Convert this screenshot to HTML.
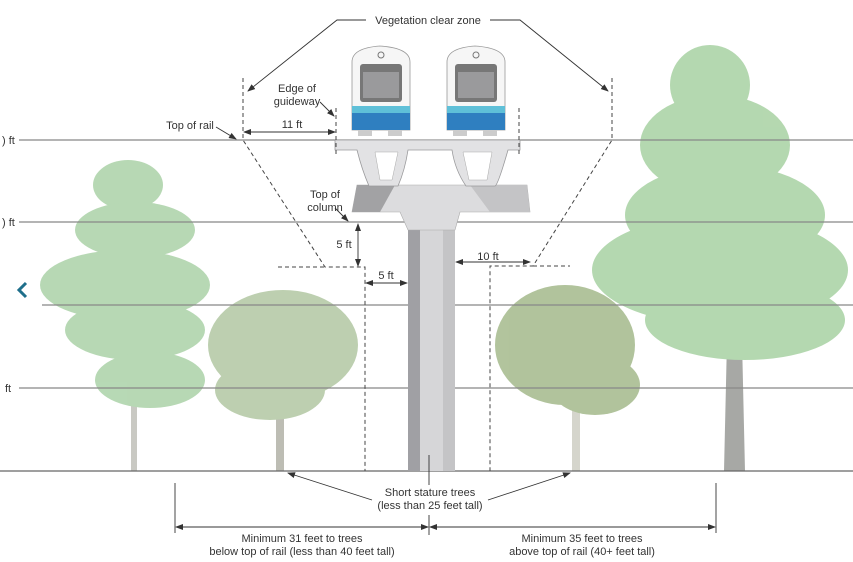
<!DOCTYPE html>
<html><head><meta charset="utf-8"><style>
html,body{margin:0;padding:0;background:#fff}
svg{display:block}
text{font-family:"Liberation Sans",Arial,sans-serif;fill:#333;font-size:11px}
</style></head><body>
<svg width="853" height="562" viewBox="0 0 853 562" xmlns="http://www.w3.org/2000/svg">
<defs>
<marker id="a" markerWidth="8" markerHeight="8" refX="7" refY="4" orient="auto" markerUnits="userSpaceOnUse"><path d="M0,1 L8,4 L0,7 Z" fill="#333"/></marker>
<marker id="b" markerWidth="8" markerHeight="8" refX="1" refY="4" orient="auto" markerUnits="userSpaceOnUse"><path d="M8,1 L0,4 L8,7 Z" fill="#333"/></marker>
</defs>
<rect width="853" height="562" fill="#fff"/>

<!-- trees -->
<g opacity="0.75">
 <rect x="131" y="300" width="6" height="171" fill="#b8b8b0"/>
 <g fill="#9fcc9c">
  <ellipse cx="128" cy="185" rx="35" ry="25"/>
  <ellipse cx="135" cy="230" rx="60" ry="28"/>
  <ellipse cx="125" cy="285" rx="85" ry="35"/>
  <ellipse cx="135" cy="330" rx="70" ry="30"/>
  <ellipse cx="150" cy="380" rx="55" ry="28"/>
 </g>
 <rect x="276" y="380" width="8" height="91" fill="#a8a89c"/>
 <g fill="#a7c096">
  <ellipse cx="283" cy="345" rx="75" ry="55"/>
  <ellipse cx="270" cy="390" rx="55" ry="30"/>
 </g>
 <rect x="572" y="390" width="8" height="81" fill="#c8c8bc"/>
 <g fill="#98b07c">
  <ellipse cx="565" cy="345" rx="70" ry="60"/>
  <ellipse cx="595" cy="385" rx="45" ry="30"/>
 </g>
 <polygon points="727,340 742,340 745,471 724,471" fill="#8a8c88"/>
 <g fill="#9ccb96">
  <ellipse cx="710" cy="85" rx="40" ry="40"/>
  <ellipse cx="715" cy="145" rx="75" ry="50"/>
  <ellipse cx="725" cy="215" rx="100" ry="50"/>
  <ellipse cx="720" cy="270" rx="128" ry="55"/>
  <ellipse cx="745" cy="320" rx="100" ry="40"/>
 </g>
</g>

<g stroke="#888" stroke-width="1.2">
 <line x1="19" y1="140" x2="853" y2="140"/>
 <line x1="19" y1="222" x2="853" y2="222"/>
 <line x1="42" y1="305" x2="853" y2="305"/>
 <line x1="19" y1="388" x2="853" y2="388"/>
 <line x1="0" y1="471" x2="853" y2="471" stroke="#666"/>
</g>
<text x="2" y="144" font-size="10">) ft</text>
<text x="2" y="226" font-size="10">) ft</text>
<text x="5" y="392" font-size="10">ft</text>
<polyline points="26,283 19,290 26,297" fill="none" stroke="#1f6f8b" stroke-width="3"/>

<!-- column -->
<polygon points="408,222 455,222 455,471 408,471" fill="#d6d6d8"/>
<polygon points="408,222 420,222 420,471 408,471" fill="#a0a0a4"/>
<polygon points="443,222 455,222 455,471 443,471" fill="#c4c4c6"/>
<polygon points="357,185 527,185 530,212 460,212 455,230 408,230 400,212 352,212" fill="#dcdcde" stroke="#aaa" stroke-width="0.6"/>
<polygon points="357,185 395,185 380,212 352,212" fill="#a2a2a4"/>
<polygon points="470,185 527,185 530,212 490,212" fill="#c4c4c6"/>
<path d="M335,140 H520 V150 L508,150 Q498,185 495,186 H466 Q455,170 452,150 H408 Q405,170 398,186 H369 Q362,170 357,150 H335 Z" fill="#e2e2e4" stroke="#9a9a9c" stroke-width="0.8"/>
<path d="M375,152 H398 L392,180 H380 Z" fill="#fff" stroke="#aaa" stroke-width="0.5"/>
<path d="M463,152 H492 L487,180 H469 Z" fill="#fff" stroke="#aaa" stroke-width="0.5"/>

<!-- trains -->
<g>
 <path d="M352,130 V62 Q352,48 380,46 Q410,48 410,62 V130 Z" fill="#f6f6f6" stroke="#999" stroke-width="0.8"/>
 <rect x="360" y="64" width="42" height="38" rx="3" fill="#777"/>
 <rect x="363" y="72" width="36" height="26" fill="#9a9a9c"/>
 <circle cx="381" cy="55" r="3" fill="none" stroke="#777"/>
 <rect x="352" y="112" width="58" height="18" fill="#2f7fc0"/>
 <rect x="352" y="106" width="58" height="7" fill="#5fc0d8"/>
 <rect x="358" y="130" width="14" height="6" fill="#ccc"/><rect x="388" y="130" width="14" height="6" fill="#ccc"/>
 <path d="M447,130 V62 Q447,48 475,46 Q505,48 505,62 V130 Z" fill="#f6f6f6" stroke="#999" stroke-width="0.8"/>
 <rect x="455" y="64" width="42" height="38" rx="3" fill="#777"/>
 <rect x="458" y="72" width="36" height="26" fill="#9a9a9c"/>
 <circle cx="476" cy="55" r="3" fill="none" stroke="#777"/>
 <rect x="447" y="112" width="58" height="18" fill="#2f7fc0"/>
 <rect x="447" y="106" width="58" height="7" fill="#5fc0d8"/>
 <rect x="453" y="130" width="14" height="6" fill="#ccc"/><rect x="483" y="130" width="14" height="6" fill="#ccc"/>
</g>

<g stroke="#444" stroke-width="1" stroke-dasharray="4,3" fill="none">
 <polyline points="243,78 243,140 325,267 365,267 365,471"/>
 <line x1="278" y1="267" x2="325" y2="267"/>
 <polyline points="612,78 612,140 533,266 490,266 490,471"/>
 <line x1="533" y1="266" x2="570" y2="266"/>
 <line x1="336" y1="108" x2="336" y2="155"/>
 <line x1="519" y1="108" x2="519" y2="155"/>
</g>

<g stroke="#333" stroke-width="0.9" fill="none">
 <polyline points="366,20 337,20 248,91" marker-end="url(#a)"/>
 <polyline points="490,20 520,20 608,91" marker-end="url(#a)"/>
 <line x1="320" y1="102" x2="334" y2="116" marker-end="url(#a)"/>
 <line x1="216" y1="127" x2="236" y2="139" marker-end="url(#a)"/>
 <line x1="244" y1="132" x2="335" y2="132" marker-start="url(#b)" marker-end="url(#a)"/>
 <line x1="335" y1="208" x2="348" y2="221" marker-end="url(#a)"/>
 <line x1="358" y1="224" x2="358" y2="266" marker-start="url(#b)" marker-end="url(#a)"/>
 <line x1="366" y1="283" x2="407" y2="283" marker-start="url(#b)" marker-end="url(#a)"/>
 <line x1="456" y1="262" x2="530" y2="262" marker-start="url(#b)" marker-end="url(#a)"/>
 <line x1="372" y1="500" x2="288" y2="473" marker-end="url(#a)"/>
 <line x1="488" y1="500" x2="570" y2="473" marker-end="url(#a)"/>
 <line x1="175" y1="483" x2="175" y2="533"/>
 <line x1="716" y1="483" x2="716" y2="533"/>
 <line x1="429" y1="455" x2="429" y2="485"/>
 <line x1="429" y1="515" x2="429" y2="535"/>
 <line x1="176" y1="527" x2="428" y2="527" marker-start="url(#b)" marker-end="url(#a)"/>
 <line x1="430" y1="527" x2="715" y2="527" marker-start="url(#b)" marker-end="url(#a)"/>
</g>

<text x="428" y="24" text-anchor="middle" font-size="12">Vegetation clear zone</text>
<text x="297" y="92" text-anchor="middle">Edge of</text>
<text x="297" y="105" text-anchor="middle">guideway</text>
<text x="190" y="129" text-anchor="middle">Top of rail</text>
<text x="292" y="128" text-anchor="middle">11 ft</text>
<text x="325" y="198" text-anchor="middle">Top of</text>
<text x="325" y="211" text-anchor="middle">column</text>
<text x="344" y="248" text-anchor="middle">5 ft</text>
<text x="386" y="279" text-anchor="middle">5 ft</text>
<text x="488" y="260" text-anchor="middle">10 ft</text>
<text x="430" y="496" text-anchor="middle">Short stature trees</text>
<text x="430" y="509" text-anchor="middle">(less than 25 feet tall)</text>
<text x="302" y="542" text-anchor="middle" font-size="10.5">Minimum 31 feet to trees</text>
<text x="302" y="555" text-anchor="middle" font-size="10.5">below top of rail (less than 40 feet tall)</text>
<text x="582" y="542" text-anchor="middle" font-size="10.5">Minimum 35 feet to trees</text>
<text x="582" y="555" text-anchor="middle" font-size="10.5">above top of rail (40+ feet tall)</text>
</svg>
</body></html>
